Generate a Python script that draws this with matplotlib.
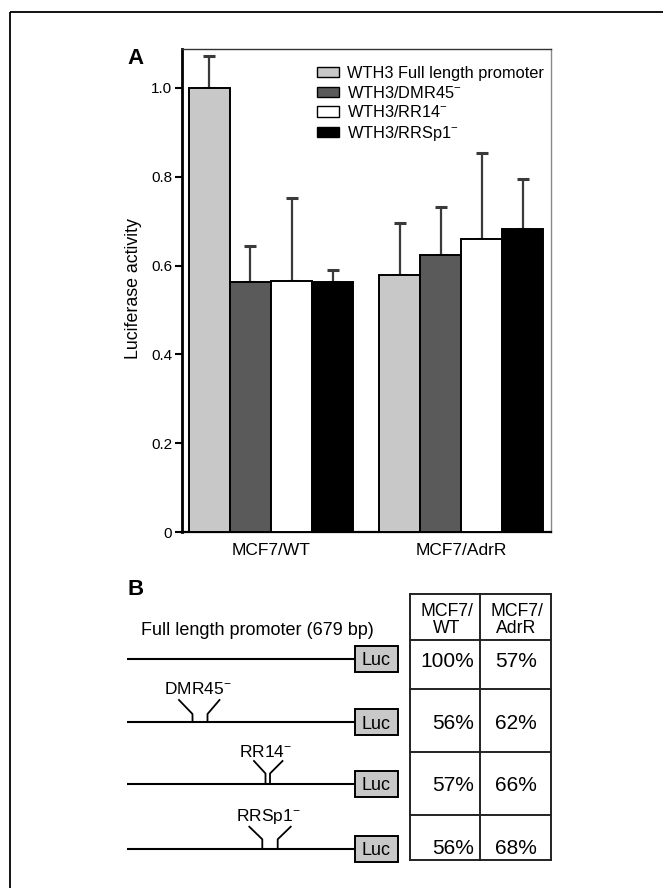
import matplotlib
matplotlib.use("Agg")
import matplotlib.pyplot as plt
from matplotlib.patches import Rectangle
import numpy as np

plt.rcParams['font.family'] = ['Liberation Sans', 'DejaVu Sans']
plt.rcParams['mathtext.fontset'] = 'custom'
plt.rcParams['mathtext.rm'] = 'Liberation Sans'
plt.rcParams['mathtext.it'] = 'Liberation Sans'

# ---------------- data ----------------
groups = ["MCF7/WT", "MCF7/AdrR"]
series_labels = ["WTH3 Full length promoter", "WTH3/DMR45$^{-}$",
                 "WTH3/RR14$^{-}$", "WTH3/RRSp1$^{-}$"]
full_vals = [1.000, 0.578]
dmr45_vals = [0.563, 0.624]
rr14_vals = [0.566, 0.661]
rrsp1_vals = [0.563, 0.682]
full_err = [0.072, 0.119]
dmr45_err = [0.080, 0.107]
rr14_err = [0.187, 0.193]
rrsp1_err = [0.026, 0.114]
series_colors = ["#c8c8c8", "#5a5a5a", "#ffffff", "#000000"]

yticks = [0, 0.2, 0.4, 0.6, 0.8, 1.0]
ytick_labels = ["0", "0.2", "0.4", "0.6", "0.8", "1.0"]

construct_title = "Full length promoter (679 bp)"
deletion_labels = ["DMR45$^{-}$", "RR14$^{-}$", "RRSp1$^{-}$"]
table_header_top = ["MCF7/", "MCF7/"]
table_header_bottom = ["WT", "AdrR"]
wt_pct = ["100%", "56%", "57%", "56%"]
adr_pct = ["57%", "62%", "66%", "68%"]

# ---------------- figure ----------------
W, H = 663, 888
fig = plt.figure(figsize=(W / 100, H / 100), dpi=100)

def fx(px):
    return px / W

def fy(py):
    return 1 - py / H

# Panel A axes
axL, axR, axT, axB_ = 182, 550.7, 49, 532
ax = fig.add_axes([fx(axL), fy(axB_), (axR - axL) / W, (axB_ - axT) / H])

values = [full_vals, dmr45_vals, rr14_vals, rrsp1_vals]
errors = [full_err, dmr45_err, rr14_err, rrsp1_err]
x = np.arange(len(groups))
w = 0.2155
for i, (vals, errs, col, lab) in enumerate(zip(values, errors, series_colors, series_labels)):
    xi = x + (i - 1.5) * w
    ax.bar(xi, vals, width=w, color=col, edgecolor="black", linewidth=1.4,
           label=lab, zorder=3)
    ax.errorbar(xi, vals, yerr=[np.zeros(len(errs)), errs], fmt="none",
                ecolor="#3a3a3a", elinewidth=1.6, capsize=4.6, capthick=2.2,
                zorder=2)

ax.set_ylim(0, 1.0878)
ax.set_xlim(-0.4677, 1.4698)
ax.set_yticks(yticks)
ax.set_yticklabels(ytick_labels, fontsize=11)
ax.set_xticks(x)
ax.set_xticklabels(groups, fontsize=12.5)
ax.tick_params(axis="y", direction="out", length=5, width=1.5, pad=2.2)
ax.tick_params(axis="x", length=0, pad=8)
ax.spines["left"].set_linewidth(2.0)
ax.spines["bottom"].set_linewidth(1.6)
ax.spines["top"].set_linewidth(1.0)
ax.spines["top"].set_color("#333333")
ax.spines["right"].set_linewidth(1.0)
ax.spines["right"].set_color("#888888")

handles = [Rectangle((0, 0), 1, 1, facecolor=c, edgecolor="black", linewidth=1.0)
           for c in series_colors]
ax.legend(handles, series_labels, loc="upper left",
          bbox_to_anchor=(fx(316.7), fy(66)), bbox_transform=fig.transFigure,
          frameon=False, fontsize=11.8, borderpad=0, borderaxespad=0,
          handlelength=1.36, handleheight=0.61, handletextpad=0.49,
          labelspacing=0.22)

fig.text(fx(134), fy(289), "Luciferase activity", rotation=90, ha="center",
         va="center", fontsize=12.8)

# ---------------- overlay for panel labels & panel B ----------------
ob = fig.add_axes([0, 0, 1, 1])
ob.set_xlim(0, W)
ob.set_ylim(H, 0)
ob.axis("off")
ob.patch.set_visible(False)

def ctext(xp, yc, s, size, ha="center", weight="normal"):
    ob.text(xp, yc + 0.36 * size * 100 / 72, s, ha=ha, va="baseline",
            fontsize=size, fontweight=weight)

# outer frame (left and top)
ob.plot([10, 10], [H, 12], color="black", lw=1.3, solid_capstyle="butt")
ob.plot([10, 663], [12, 12], color="black", lw=1.3, solid_capstyle="butt")

ctext(127.5, 56, "A", 16, ha="left", weight="bold")
ctext(127.5, 586.5, "B", 16, ha="left", weight="bold")

# constructs
line_y = [658.7, 722.0, 783.5, 848.7]
line_x0, line_x1 = 127, 355
luc_w, luc_h = 43.3, 26
ctext(140.7, 628, construct_title, 13, ha="left")
for yy in line_y:
    ob.plot([line_x0, line_x1], [yy, yy], color="black", lw=1.5,
            solid_capstyle="butt")
    ob.add_patch(Rectangle((line_x1, yy - luc_h / 2), luc_w, luc_h,
                           facecolor="#c8c8c8", edgecolor="black", lw=1.4))
    ctext(line_x1 + luc_w / 2 - 1, yy, "Luc", 13)

# deletion marks: (outer_left_x, inner_left_x, inner_right_x, outer_right_x, top_y, knee_y)
marks = [
    (179.0, 192.5, 207.5, 219.5, 700.0, 714.0),
    (254.0, 265.5, 270.0, 282.5, 761.0, 773.5),
    (249.3, 262.3, 277.7, 290.7, 826.7, 839.3),
]
label_pos = [(197.5, 688.0), (265.5, 751.0), (268.0, 815.0)]
for (xl, xil, xir, xr, yt, yk), yy, lab, (lx, ly) in zip(marks, line_y[1:], deletion_labels, label_pos):
    ob.plot([xl, xil, xil], [yt, yk, yy], color="black", lw=1.3)
    ob.plot([xr, xir, xir], [yt, yk, yy], color="black", lw=1.3)
    ctext(lx, ly, lab, 12.5)

# table
tx = [410, 480, 550.7]
ty = [594, 640, 689.3, 751.7, 815, 860]
for xx in tx:
    ob.plot([xx, xx], [ty[0], ty[-1]], color="#222222", lw=1.4)
for yy in ty:
    ob.plot([tx[0], tx[-1]], [yy, yy], color="#222222", lw=1.4)

col_centers = [446.5, 516.5]
for cx, t1, t2 in zip(col_centers, table_header_top, table_header_bottom):
    ctext(cx, 609.3, t1, 12.7)
    ctext(cx, 626.7, t2, 12.7)

value_y = [659.0, 721.7, 783.3, 846.0]
for yy, a, b in zip(value_y, wt_pct, adr_pct):
    ctext(474.5, yy, a, 15, ha="right")
    ctext(516.0, yy, b, 15, ha="center")

fig.savefig("out.png", dpi=100)
